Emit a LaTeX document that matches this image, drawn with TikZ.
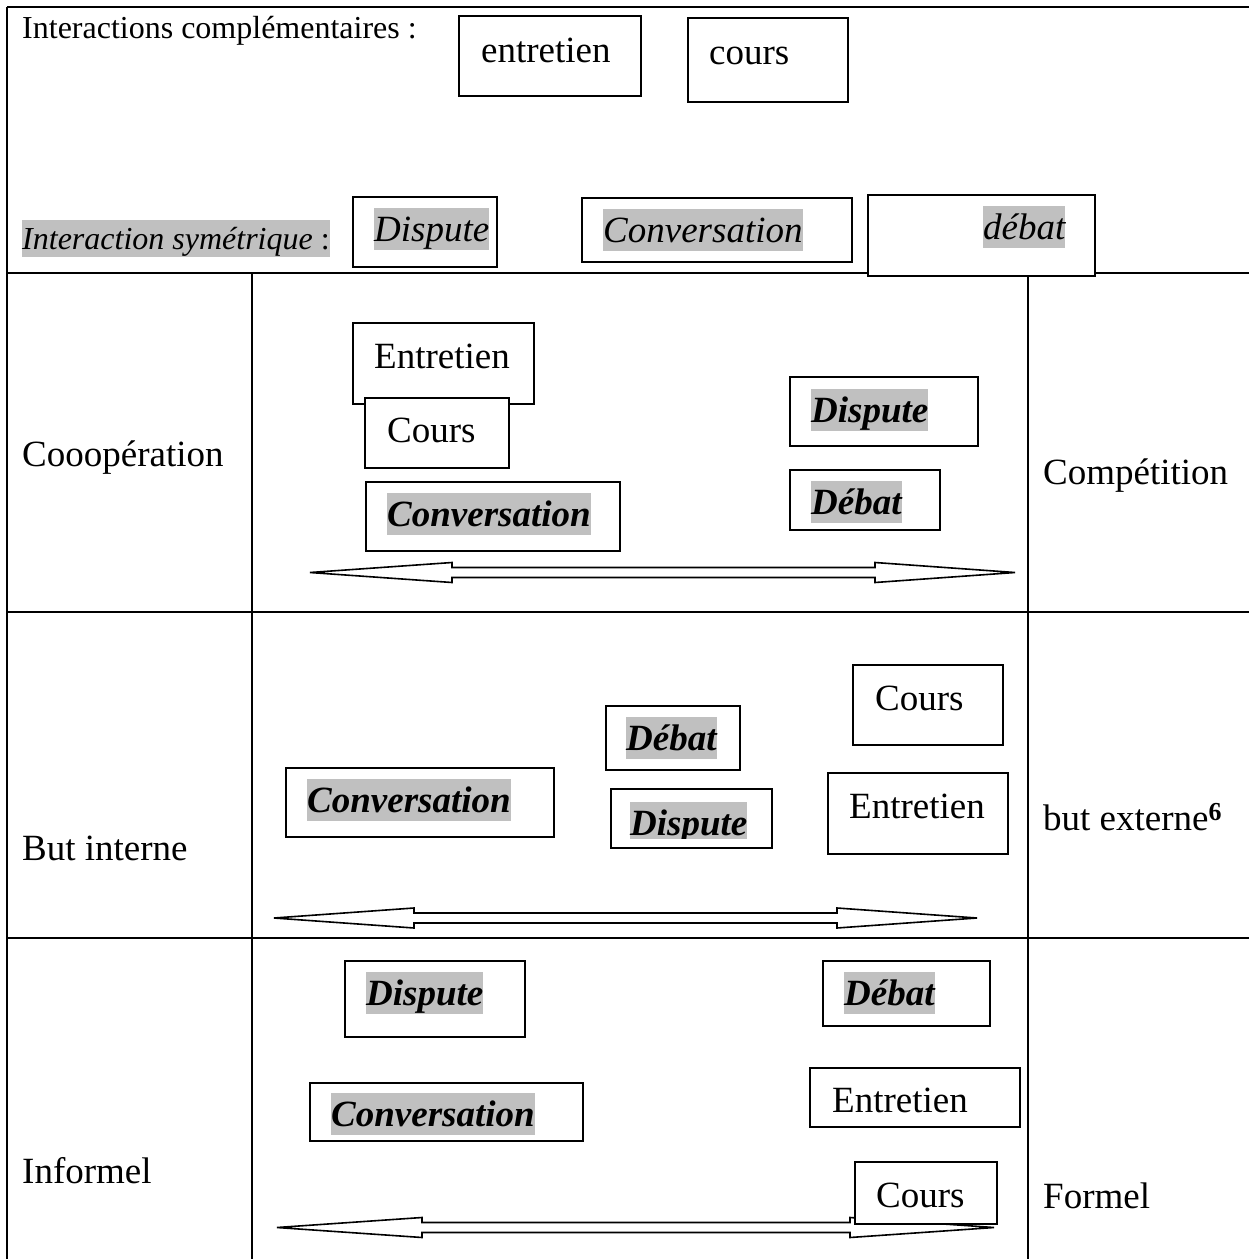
\documentclass[tikz,border=0pt]{standalone}
\usepackage{fontspec}
\setmainfont{Liberation Serif}
\definecolor{hlgray}{RGB}{192,192,192}
\begin{document}
\begin{tikzpicture}[x=1pt,y=-1pt,
  tline/.style={line width=2.8pt},
  boxn/.style={draw, line width=1.8pt, fill=white, rectangle, inner sep=0pt, outer sep=0pt, anchor=north west},
  txt/.style={inner sep=0pt, anchor=base west, font=\fontsize{37}{44}\selectfont},
  smalltxt/.style={inner sep=0pt, anchor=base west, font=\fontsize{32}{38}\selectfont},
  hl/.style={txt, fill=hlgray, text height=33pt, text depth=9pt},
  hli/.style={hl, font=\fontsize{37}{44}\selectfont\itshape},
  hlbi/.style={hl, font=\fontsize{37}{44}\selectfont\bfseries\itshape},
  hlsmall/.style={smalltxt, fill=hlgray, text height=29pt, text depth=8pt},
  dblarrow/.style={draw, line width=1.6pt, fill=white},
]
\useasboundingbox (0,0) rectangle (1249,1259);
\newcommand\dblarr[5]{%
  \draw[dblarrow] ({#2},{#1}) -- ({#3},{#1-10}) -- ({#3},{#1-5}) -- ({#4},{#1-5}) -- ({#4},{#1-10}) -- ({#5},{#1})
   -- ({#4},{#1+10}) -- ({#4},{#1+5}) -- ({#3},{#1+5}) -- ({#3},{#1+10}) -- cycle;}

% table lines
\coordinate (tl) at (7,7);
\coordinate (tr) at (1249,7);
\coordinate (bl) at (7,1259);
\draw[tline] (tl) -- (tr);
\draw[tline] (tl) -- (bl);
\draw[tline] (7,273) -- (1249,273);
\draw[tline] (7,612) -- (1249,612);
\draw[tline] (7,938) -- (1249,938);
\draw[tline] (252,273) -- (252,1259);
\draw[tline] (1028,273) -- (1028,1259);

% header row
\node[smalltxt] (hdrA) at (22,38) {Interactions complémentaires :};
\node[boxn, minimum width=182pt, minimum height=80pt] (hE) at (459,16) {};
\node[txt] (hEt) at (481,62) {entretien};
\node[boxn, minimum width=160pt, minimum height=84pt] (hC) at (688,18) {};
\node[txt] (hCt) at (709,64) {cours};
\node[hlsmall] (hdrB) at (22,249) {\itshape Interaction symétrique\upshape\ :};
\node[boxn, minimum width=144pt, minimum height=70pt] (hD) at (353,197) {};
\node[hli] (hDt) at (374,241) {Dispute};
\node[boxn, minimum width=270pt, minimum height=64pt] (hConv) at (582,198) {};
\node[hli] (hConvt) at (603,242) {Conversation};
\node[boxn, minimum width=227pt, minimum height=81pt] (hDeb) at (868,195) {};
\node[hli] (hDebt) at (983,239) {débat};

% row 1
\node[txt] (l1) at (22,466) {Cooopération};
\node[txt] (r1) at (1043,484) {Compétition};
\node[boxn, minimum width=181pt, minimum height=81pt] (aE) at (353,323) {};
\node[txt] (aEt) at (374,368) {Entretien};
\node[boxn, minimum width=144pt, minimum height=70pt] (aC) at (365,398) {};
\node[txt] (aCt) at (387,442) {Cours};
\node[boxn, minimum width=254pt, minimum height=69pt] (aConv) at (366,482) {};
\node[hlbi] (aConvt) at (387,526) {Conversation};
\node[boxn, minimum width=188pt, minimum height=69pt] (aD) at (790,377) {};
\node[hlbi] (aDt) at (811,422) {Dispute};
\node[boxn, minimum width=150pt, minimum height=60pt] (aDeb) at (790,470) {};
\node[hlbi] (aDebt) at (811,514) {Débat};
\dblarr{572.5}{310}{452}{875}{1015}

% row 2
\node[txt] (l2) at (22,860) {But interne};
\node[txt] (r2) at (1043,830) {but externe\textsuperscript{\textbf{6}}};
\node[boxn, minimum width=134pt, minimum height=64pt] (bDeb) at (606,706) {};
\node[hlbi] (bDebt) at (626,750) {Débat};
\node[boxn, minimum width=268pt, minimum height=69pt] (bConv) at (286,768) {};
\node[hlbi] (bConvt) at (307,812) {Conversation};
\node[boxn, minimum width=161pt, minimum height=59pt] (bD) at (611,789) {};
\begin{scope}
  \clip (612,790) rectangle (771,838);
  \node[hlbi] (bDt) at (630,835) {Dispute};
\end{scope}
\node[boxn, minimum width=150pt, minimum height=80pt] (bC) at (853,665) {};
\node[txt] (bCt) at (875,710) {Cours};
\node[boxn, minimum width=180pt, minimum height=81pt] (bE) at (828,773) {};
\node[txt] (bEt) at (849,818) {Entretien};
\dblarr{918}{274}{414}{837}{977}

% row 3
\node[txt] (l3) at (22,1183) {Informel};
\node[txt] (r3) at (1043,1208) {Formel};
\node[boxn, minimum width=180pt, minimum height=76pt] (cD) at (345,961) {};
\node[hlbi] (cDt) at (366,1005) {Dispute};
\node[boxn, minimum width=273pt, minimum height=58pt] (cConv) at (310,1083) {};
\node[hlbi] (cConvt) at (331,1126) {Conversation};
\node[boxn, minimum width=167pt, minimum height=65pt] (cDeb) at (823,961) {};
\node[hlbi] (cDebt) at (844,1005) {Débat};
\node[boxn, minimum width=210pt, minimum height=59pt] (cE) at (810,1068) {};
\node[txt] (cEt) at (832,1112) {Entretien};
\dblarr{1227.5}{277}{422}{850}{994}
\node[boxn, minimum width=142pt, minimum height=62pt] (cC) at (855,1162) {};
\node[txt] (cCt) at (876,1207) {Cours};
\end{tikzpicture}
\end{document}
